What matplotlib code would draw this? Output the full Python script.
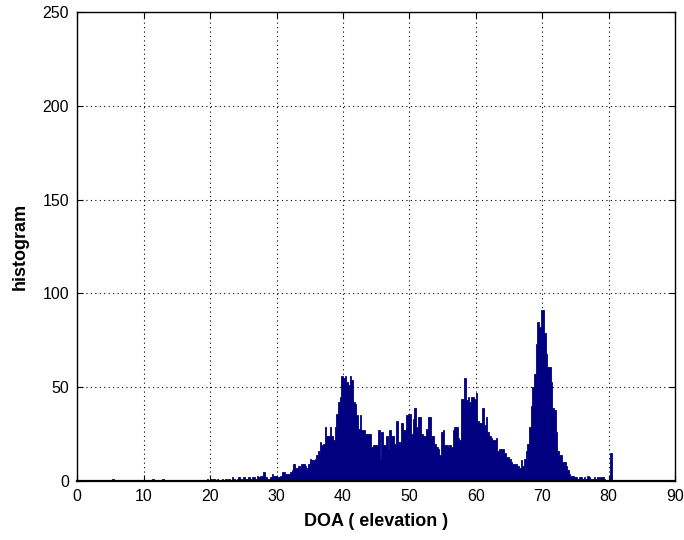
import numpy as np
import matplotlib
matplotlib.use("Agg")
import matplotlib.pyplot as plt

# Histogram of DOA (elevation) estimates, bin width 0.25 deg
bin_width = 0.25
# isolated small bins below 20 deg
low_bin_left = [5.25, 11.25, 12.75, 19.5]
low_counts = [1, 1, 1, 1]

# counts for bins starting at 20.0 deg, 4 bins per degree
main_start = 20.0
counts_by_degree = [
    [1, 0, 1, 0],        # 20
    [1, 0, 0, 1],        # 21
    [0, 1, 0, 1],        # 22
    [0, 2, 1, 0],        # 23
    [1, 2, 1, 1],        # 24
    [2, 1, 1, 2],        # 25
    [1, 2, 2, 1],        # 26
    [3, 2, 3, 3],        # 27
    [5, 2, 1, 1],        # 28
    [2, 4, 3, 3],        # 29
    [2, 2, 3, 5],        # 30
    [5, 4, 4, 4],        # 31
    [5, 6, 9, 7],        # 32
    [7, 8, 7, 9],        # 33
    [9, 8, 7, 9],        # 34
    [12, 11, 11, 12],    # 35
    [14, 16, 21, 19],    # 36
    [20, 29, 24, 24],    # 37
    [29, 24, 22, 29],    # 38
    [36, 42, 45, 56],    # 39
    [55, 56, 53, 51],    # 40
    [56, 54, 42, 41],    # 41
    [35, 28, 35, 27],    # 42
    [27, 25, 25, 25],    # 43
    [25, 18, 19, 19],    # 44
    [19, 27, 12, 26],    # 45
    [19, 19, 24, 17],    # 46
    [27, 24, 24, 20],    # 47
    [32, 21, 21, 31],    # 48
    [27, 27, 35, 36],    # 49
    [36, 25, 33, 39],    # 50
    [29, 34, 34, 25],    # 51
    [24, 24, 28, 34],    # 52
    [34, 24, 24, 20],    # 53
    [18, 17, 14, 26],    # 54
    [27, 19, 19, 18],    # 55
    [19, 18, 27, 29],    # 56
    [29, 23, 22, 44],    # 57
    [44, 55, 43, 45],    # 58
    [42, 45, 45, 44],    # 59
    [47, 32, 31, 31],    # 60
    [39, 30, 34, 26],    # 61
    [24, 23, 22, 22],    # 62
    [23, 16, 17, 17],    # 63
    [17, 15, 13, 13],    # 64
    [12, 10, 9, 9],      # 65
    [9, 8, 7, 11],       # 66
    [8, 12, 16, 20],     # 67
    [29, 40, 50, 57],    # 68
    [73, 85, 82, 91],    # 69
    [91, 79, 68, 61],    # 70
    [61, 53, 39, 38],    # 71
    [26, 16, 14, 14],    # 72
    [10, 10, 8, 6],      # 73
    [4, 3, 3, 2],        # 74
    [2, 1, 2, 2],        # 75
    [1, 2, 1, 3],        # 76
    [2, 1, 1, 2],        # 77
    [1, 2, 1, 2],        # 78
    [2, 1, 0, 0],        # 79
    [0, 15, 0, 0],       # 80
]

x_ticks = [0, 10, 20, 30, 40, 50, 60, 70, 80, 90]
y_ticks = [0, 50, 100, 150, 200, 250]
x_label = "DOA ( elevation )"
y_label = "histogram"

# assemble a contiguous histogram over 0..90 from the read values
edges = np.arange(0, 90 + bin_width / 2, bin_width)
full_counts = np.zeros(len(edges) - 1)
for left, c in zip(low_bin_left, low_counts):
    full_counts[int(round(left / bin_width))] = c
main_counts = [c for row in counts_by_degree for c in row]
start_idx = int(round(main_start / bin_width))
full_counts[start_idx:start_idx + len(main_counts)] = main_counts

plt.rcParams['font.family'] = ['Liberation Sans', 'DejaVu Sans']

fig = plt.figure(figsize=(6.84, 5.40), dpi=100)
ax = fig.add_axes([0.113, 0.109, 0.874, 0.869])

ax.stairs(full_counts, edges, fill=True, facecolor='#000080',
          edgecolor='#000080', linewidth=0.6, zorder=2)

ax.set_xlim(0, 90)
ax.set_ylim(0, 250)
ax.set_xticks(x_ticks)
ax.set_yticks(y_ticks)
ax.tick_params(direction='in', top=True, right=True, labelsize=11.5,
               length=4, width=0.8, pad=6)
ax.set_axisbelow(True)
ax.grid(True, linestyle=(0, (1, 3)), color='black', linewidth=0.8, zorder=1)
for s in ax.spines.values():
    s.set_linewidth(1.0)
    s.set_zorder(3)
ax.spines['bottom'].set_linewidth(1.6)

ax.set_xlabel(x_label, fontsize=13, fontweight='bold', labelpad=6)
ax.set_ylabel(y_label, fontsize=13, fontweight='bold', labelpad=10)

fig.savefig("out.png", dpi=100, facecolor='white')
